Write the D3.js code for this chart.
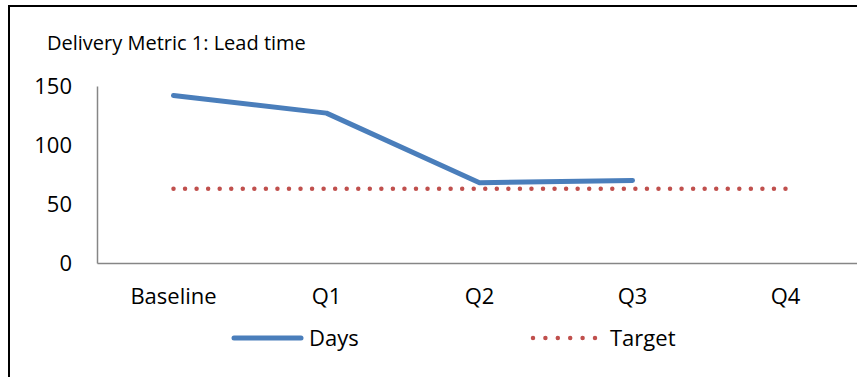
<!DOCTYPE html>
<html>
<head>
<meta charset="utf-8">
<script src="https://cdn.jsdelivr.net/npm/d3@7"></script>
<style>
  html, body { margin: 0; padding: 0; background: #fff; }
  svg { display: block; }
  text { font-family: "Open Sans", Lato, sans-serif; fill: #000; }
</style>
</head>
<body>
<svg id="chart" width="857" height="377"></svg>
<script>
// Lead time per quarter against the target
const categories = ["Baseline", "Q1", "Q2", "Q3", "Q4"];
const days = [142, 127, 68, 70, null];
const target = [63, 63, 63, 63, 63];
const yTicks = [0, 50, 100, 150];
const title = "Delivery Metric 1: Lead time";
const seriesNames = ["Days", "Target"];

const blue = "#4a7ebb";
const red = "#c0504d";
const axisGrey = "#868686";
const fontFamily = "'Open Sans', Lato, sans-serif";

const svg = d3.select("#chart");

// outer chart frame (runs past the right and bottom edges)
svg.append("rect")
  .attr("x", 9).attr("y", 6)
  .attr("width", 900).attr("height", 400)
  .attr("fill", "none")
  .attr("stroke", "#000")
  .attr("stroke-width", 2);

svg.append("text")
  .attr("x", 47).attr("y", 50)
  .style("font-size", "20px")
  .text(title);

const plot = { left: 97, top: 86, bottom: 263, right: 862 };

const x = d3.scaleBand()
  .domain(categories)
  .range([plot.left, plot.right])
  .paddingInner(0).paddingOuter(0);

const y = d3.scaleLinear()
  .domain([0, 150])
  .range([plot.bottom, plot.top]);

const cx = c => x(c) + x.bandwidth() / 2;

// y axis
const yAxis = svg.append("g")
  .attr("transform", `translate(${plot.left},0)`)
  .call(d3.axisLeft(y).tickValues(yTicks).tickSize(0).tickPadding(25));
yAxis.select(".domain").attr("stroke", axisGrey).attr("stroke-width", 1.5);
yAxis.selectAll("text")
  .style("font-size", "22px")
  .style("font-family", fontFamily)
  .attr("dy", "0.35em");

// x axis
const xAxis = svg.append("g")
  .attr("transform", `translate(0,${plot.bottom})`)
  .call(d3.axisBottom(x).tickSize(0).tickPadding(25));
xAxis.select(".domain").attr("stroke", axisGrey).attr("stroke-width", 1.5);
xAxis.selectAll("text")
  .style("font-size", "22px")
  .style("font-family", fontFamily);

// target line, round dots
const targetLine = d3.line()
  .x((d, i) => cx(categories[i]))
  .y(d => y(d));
svg.append("path")
  .datum(target)
  .attr("d", targetLine)
  .attr("fill", "none")
  .attr("stroke", red)
  .attr("stroke-width", 4.5)
  .attr("stroke-linecap", "round")
  .attr("stroke-dasharray", "0 11.547");

// days line
const daysLine = d3.line()
  .defined(d => d != null)
  .x((d, i) => cx(categories[i]))
  .y(d => y(d));
svg.append("path")
  .datum(days)
  .attr("d", daysLine)
  .attr("fill", "none")
  .attr("stroke", blue)
  .attr("stroke-width", 5)
  .attr("stroke-linecap", "round")
  .attr("stroke-linejoin", "round");

// legend
const legendY = 338;
const legend = svg.append("g");
legend.append("line")
  .attr("x1", 234).attr("x2", 301)
  .attr("y1", legendY).attr("y2", legendY)
  .attr("stroke", blue).attr("stroke-width", 5)
  .attr("stroke-linecap", "round");
legend.append("text")
  .attr("x", 309).attr("y", legendY + 8)
  .style("font-size", "22px")
  .text(seriesNames[0]);
legend.append("line")
  .attr("x1", 533).attr("x2", 595)
  .attr("y1", legendY).attr("y2", legendY)
  .attr("stroke", red).attr("stroke-width", 4.5)
  .attr("stroke-linecap", "round")
  .attr("stroke-dasharray", "0 12.4");
legend.append("text")
  .attr("x", 610).attr("y", legendY + 8)
  .style("font-size", "22px")
  .text(seriesNames[1]);
</script>
</body>
</html>
